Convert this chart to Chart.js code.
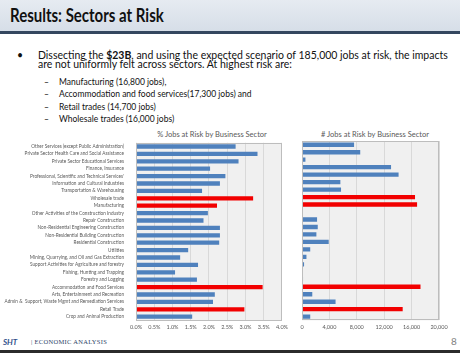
<!DOCTYPE html>
<html>
<head>
<meta charset="utf-8">
<script src="https://cdn.jsdelivr.net/npm/chart.js@4/dist/chart.umd.min.js"></script>
<style>
  body { margin: 0; width: 460px; height: 353px; overflow: hidden; background: #fff; font-family: Lato, "Open Sans", sans-serif; position: relative; }
  .abs { position: absolute; white-space: nowrap; transform-origin: 0 50%; display: inline-block; }
  #header { position: absolute; left: 0; top: 0; width: 460px; height: 31px; background: linear-gradient(#e6ebf1, #d6dee8); }
  #headerLine { position: absolute; left: 0; top: 31px; width: 460px; height: 3px; background: #34475f; }
  #footerBar { position: absolute; left: 0; top: 350px; width: 460px; height: 3px; background: #2b2b2b; }
  .ctitle { position: absolute; font-size: 7.5px; color: #595959; white-space: nowrap; transform: translateX(-50%); }
  .dash { left: 44px; font-size: 8.5px; color: #111; }
  .sub { left: 59px; font-size: 8.5px; color: #111; }
  canvas { position: absolute; }
</style>
</head>
<body>
<div id="header"></div>
<div id="headerLine"></div>
<div class="abs" id="title" style="left:10px; top:3px; font-size:19px; font-weight:bold; color:#111;">Results: Sectors at Risk</div>

<div class="abs" style="left:17px; top:49px; font-size:10.5px; color:#111;">•</div>
<div class="abs" id="line1" style="left:38px; top:49px; font-size:10.5px; color:#111;">Dissecting the <b>$23B</b>, and using the expected scenario of 185,000 jobs at risk, the impacts</div>
<div class="abs" id="line2" style="left:38px; top:58px; font-size:10.5px; color:#111;">are not uniformly felt across sectors. At highest risk are:</div>

<div class="abs dash" style="top:76.6px;">–</div>
<div class="abs sub" id="sub1" style="top:76.6px;">Manufacturing (16,800 jobs),</div>
<div class="abs dash" style="top:89.2px;">–</div>
<div class="abs sub" style="top:89.2px;">Accommodation and food services(17,300 jobs) and</div>
<div class="abs dash" style="top:101.6px;">–</div>
<div class="abs sub" style="top:101.6px;">Retail trades (14,700 jobs)</div>
<div class="abs dash" style="top:113.9px;">–</div>
<div class="abs sub" style="top:113.9px;">Wholesale trades (16,000 jobs)</div>

<div class="ctitle" style="left:212px; top:130px;">% Jobs at Risk by Business Sector</div>
<div class="ctitle" style="left:375px; top:130px;"># Jobs at Risk by Business Sector</div>

<canvas id="pctChart" width="292" height="199" style="left:0; top:136px;"></canvas>
<canvas id="jobsChart" width="168" height="199" style="left:292px; top:136px;"></canvas>

<div class="abs" style="left:3px; top:337px; font-size:8px; font-weight:bold; font-style:italic; color:#2f4f8a;">SHT</div>
<div class="abs" id="footerText" style="left:31px; top:338px; font-size:6.5px; color:#2d3f66; font-family:'Liberation Serif','DejaVu Serif',serif; letter-spacing:0.3px;">| ECONOMIC ANALYSIS</div>
<div class="abs" style="left:451px; top:335px; font-size:10px; color:#7f7f7f;">8</div>
<div id="footerBar"></div>

<script>
// Sectors, top to bottom as drawn
const sectors = [
    'Other Services (except Public Administration)',
    'Private Sector Health Care and Social Assistance',
    'Private Sector Educational Services',
    'Finance, Insurance',
    "Professional, Scientific and Technical Services'",
    'Information and Cultural Industries',
    'Transportation & Warehousing',
    'Wholesale trade',
    'Manufacturing',
    'Other Activities of the Construction Industry',
    'Repair Construction',
    'Non-Residential Engineering Construction',
    'Non-Residential Building Construction',
    'Residential Construction',
    'Utilities',
    'Mining, Quarrying, and Oil and Gas Extraction',
    'Support Activities for Agriculture and forestry',
    'Fishing, Hunting and Trapping',
    'Forestry and Logging',
    'Accommodation and Food Services',
    'Arts, Entertainment and Recreation',
    'Admin &  Support, Waste Mgmt and Remediation Services',
    'Retail Trade',
    'Crop and Animal Production'
];

// % of jobs at risk
const pctAtRisk = [2.73, 3.33, 2.81, 2.03, 2.45, 2.30, 1.81, 3.21, 2.22, 1.97, 1.85, 2.30,
    2.30, 2.28, 1.43, 1.21, 1.70, 1.07, 1.67, 3.47, 2.16, 2.11, 2.97, 1.54];

// number of jobs at risk
const jobsAtRisk = [7600, 8500, 500, 13000, 14100, 5600, 5700, 16500, 16800, 100, 2200, 2300,
    2100, 3900, 1200, 650, 300, 30, 150, 17300, 1500, 4900, 14700, 1200];

// sectors shown in red
const highRisk = ['Wholesale trade', 'Manufacturing', 'Accommodation and Food Services', 'Retail Trade'];

const pctTicks = { min: 0, max: 4, step: 0.5 };
const jobTicks = { min: 0, max: 20000, step: 4000 };

const barColors = sectors.map(s => highRisk.includes(s) ? '#f20000' : '#4f81bd');

// fit text widths to the slide
function fitX(id, w) {
    const el = document.getElementById(id);
    const s = w / el.scrollWidth;
    el.style.transform = 'scaleX(' + s + ')';
    return s;
}
const s1 = fitX('line1', 410);
document.getElementById('line2').style.transform = 'scaleX(' + s1 + ')';
const s2 = fitX('sub1', 107);
document.querySelectorAll('.sub').forEach(el => { el.style.transform = 'scaleX(' + s2 + ')'; });
fitX('title', 154);
fitX('footerText', 76);

// gray plot area with border
const plotBg = {
    id: 'plotBg',
    beforeDraw(chart) {
        const { ctx, chartArea: a } = chart;
        ctx.save();
        ctx.fillStyle = '#f0f0f0';
        ctx.fillRect(a.left, a.top, a.width, a.height);
        ctx.restore();
    },
    afterDraw(chart) {
        const { ctx, chartArea: a } = chart;
        ctx.save();
        ctx.strokeStyle = '#bdbdbd';
        ctx.lineWidth = 1;
        ctx.strokeRect(Math.round(a.left) + 0.5, Math.round(a.top) + 0.5, Math.round(a.width) - 1, Math.round(a.height) - 1);
        ctx.restore();
    }
};

const tickFont = { family: 'Lato, sans-serif', size: 5.5 };
const labelFont = { family: 'Lato, sans-serif', size: 4.7 };

function makeChart(id, values, ticks, fmt, showLabels, padding) {
    const yAxis = {
        display: showLabels,
        grid: { display: false },
        border: { display: false },
        ticks: { autoSkip: false, font: labelFont, color: '#595959', padding: 4 }
    };
    if (showLabels) yAxis.afterFit = scale => { scale.width = 136; };

    return new Chart(document.getElementById(id), {
        type: 'bar',
        data: {
            labels: sectors,
            datasets: [{
                data: values,
                backgroundColor: barColors,
                categoryPercentage: 1,
                barPercentage: 0.58
            }]
        },
        options: {
            indexAxis: 'y',
            responsive: false,
            animation: false,
            devicePixelRatio: 1,
            layout: { padding: padding },
            plugins: { legend: { display: false }, tooltip: { enabled: false } },
            scales: {
                x: {
                    min: ticks.min,
                    max: ticks.max,
                    grid: { color: '#d9d9d9', drawTicks: false },
                    border: { display: false },
                    ticks: {
                        stepSize: ticks.step,
                        font: tickFont,
                        color: '#595959',
                        padding: 4,
                        maxRotation: 0,
                        callback: fmt
                    }
                },
                y: yAxis
            }
        },
        plugins: [plotBg]
    });
}

makeChart('pctChart', pctAtRisk, pctTicks, v => v.toFixed(1) + '%', true,
    { top: 5, right: 5, left: 0, bottom: 0 });
makeChart('jobsChart', jobsAtRisk, jobTicks, v => v.toLocaleString('en-US'), false,
    { top: 5, right: 21, left: 10, bottom: 0 });
</script>
</body>
</html>
